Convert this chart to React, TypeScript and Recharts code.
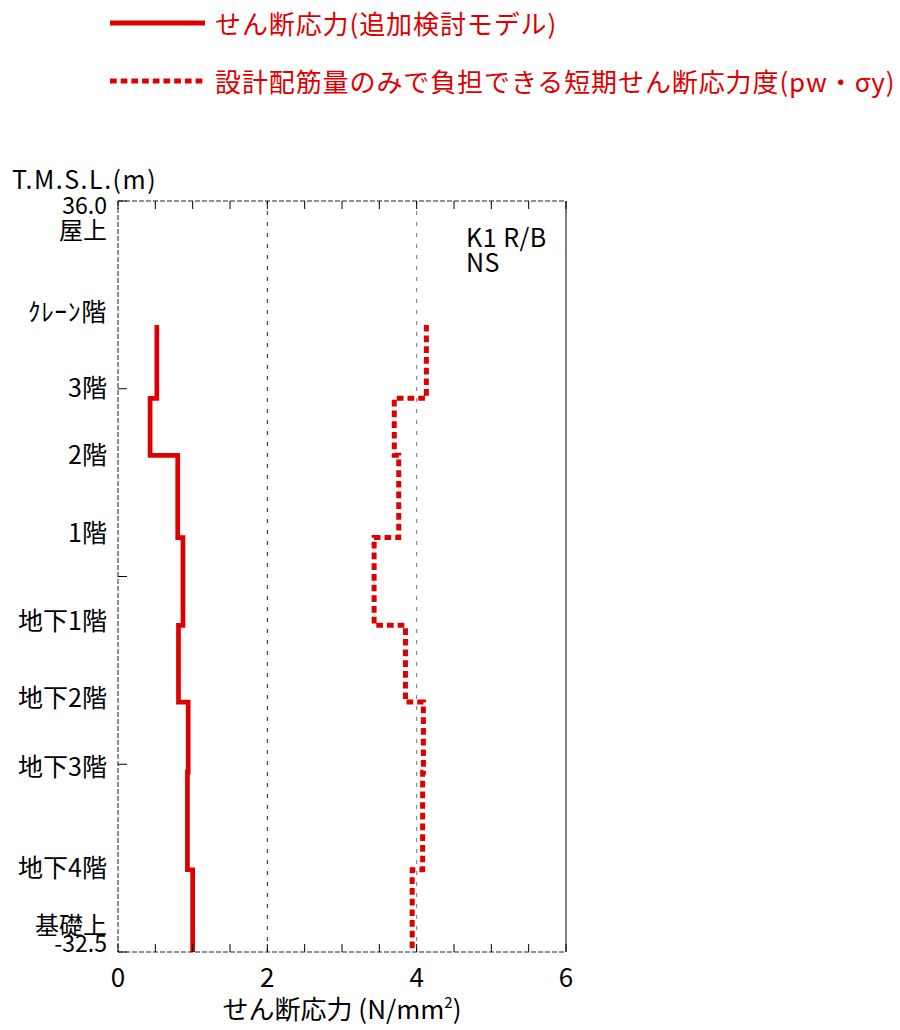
import { LineChart, Line, XAxis, YAxis, ReferenceLine, Legend, Label } from 'recharts'

const FONT = '"Noto Sans CJK JP", "Noto Sans", sans-serif'
const RED = '#dd0000'

// floor levels T.M.S.L.(m), top to bottom
const levels = [24.7, 18.0, 12.8, 5.3, -2.7, -9.7, -16.1, -25.0, -32.5]
// story values between levels[i] and levels[i + 1]
const shearModel = [0.52, 0.43, 0.80, 0.87, 0.81, 0.94, 0.93, 1.00]
const shearCapacity = [4.13, 3.70, 3.76, 3.43, 3.85, 4.09, 4.08, 3.94]

const legendNames = ['せん断応力(追加検討モデル)', '設計配筋量のみで負担できる短期せん断応力度(pw・σy)']

const storyNames = ['36.0', '屋上', 'ｸﾚｰﾝ階', '3階', '2階', '1階', '地下1階', '地下2階', '地下3階', '地下4階', '基礎上', '-32.5']
const storyLabelZ = [35.6, 33.3, 25.9, 18.9, 12.8, 5.7, -2.3, -9.3, -15.6, -24.8, -30.1, -31.7]
const storyFontSize = [23, 24, 25, 25, 25, 25, 25, 25, 25, 25, 24, 23]

const xTicks = [0, 0.5, 1, 1.5, 2, 2.5, 3, 3.5, 4, 4.5, 5, 5.5, 6]
const xLabels = [0, 2, 4, 6]
const zTicks = [36, 18.875, 1.75, -15.375, -32.5]
const zDomain = [-32.5, 36]

const stepPoints = (vals: number[]) =>
  vals.flatMap((v, i) => [{ z: levels[i], v }, { z: levels[i + 1], v }])

const modelPts = stepPoints(shearModel)
const capacityPts = stepPoints(shearCapacity)

const textStyle = { fontFamily: FONT, fill: '#000' }

// eslint-disable-next-line @typescript-eslint/no-explicit-any
const BottomTick = ({ x, y, payload }: any) => (
  <g>
    <line x1={x} x2={x} y1={y} y2={y - 8} stroke="#000" />
    {xLabels.includes(payload.value) && (
      <text x={x} y={y + 35} textAnchor="middle" fontSize={26} style={textStyle}>{payload.value}</text>
    )}
  </g>
)

// eslint-disable-next-line @typescript-eslint/no-explicit-any
const TopTick = ({ x, y }: any) => <line x1={x} x2={x} y1={y} y2={y + 8} stroke="#000" />

// eslint-disable-next-line @typescript-eslint/no-explicit-any
const LeftTick = ({ x, y, payload }: any) => {
  const i = storyLabelZ.indexOf(payload.value)
  const fs = storyFontSize[i]
  return (
    <g>
      {zTicks.includes(payload.value) && <line x1={x} x2={x + 9} y1={y} y2={y} stroke="#000" />}
      {i >= 0 && (
        <text x={x - 11} y={y + fs * 0.36} textAnchor="end" fontSize={fs}
          letterSpacing={i === 2 ? 0.8 : 0} style={textStyle}>{storyNames[i]}</text>
      )}
    </g>
  )
}

// eslint-disable-next-line @typescript-eslint/no-explicit-any
const RightTick = ({ x, y }: any) => <line x1={x} x2={x - 9} y1={y} y2={y} stroke="#000" />

const renderLegend = () => (
  <div style={{ fontFamily: FONT }}>
    {legendNames.map((name, i) => (
      <div key={name} style={{ display: 'flex', alignItems: 'center', height: 34, marginBottom: i === 0 ? 24 : 0 }}>
        <svg width={95} height={10}>
          <line x1={0} x2={95} y1={5} y2={5} stroke={RED} strokeWidth={5}
            strokeDasharray={i === 1 ? '6.7 4' : undefined} />
        </svg>
        <span style={{ marginLeft: 10, color: RED, fontSize: 26, lineHeight: '34px', letterSpacing: 0.9, whiteSpace: 'nowrap' }}>{name}</span>
      </div>
    ))}
  </div>
)

export default function App() {
  return (
    <div style={{ position: 'absolute', left: 0, top: 0, width: 900, height: 1030, background: '#fff' }}>
      <LineChart layout="vertical" width={900} height={1030}
        margin={{ top: 200, right: 333, bottom: 77, left: 117 }}>
        <XAxis xAxisId="b" type="number" dataKey="v" domain={[0, 6]} ticks={xTicks} interval={0}
          orientation="bottom" height={1} tickSize={0} tickMargin={0} tickLine={false}
          axisLine={{ stroke: '#222', strokeDasharray: '5 2' }} tick={BottomTick} allowDataOverflow>
          <Label content={({ viewBox }: any) => (
            <text x={viewBox.x + viewBox.width / 2} y={viewBox.y + 67} textAnchor="middle" fontSize={26} style={textStyle}>
              せん断応力 (N/mm<tspan fontSize={15} dy={-11}>2</tspan><tspan dy={11}>)</tspan>
            </text>
          )} />
        </XAxis>
        <XAxis xAxisId="t" type="number" domain={[0, 6]} ticks={xTicks} interval={0}
          orientation="top" height={1} tickSize={0} tickMargin={0} tickLine={false}
          axisLine={{ stroke: '#222', strokeDasharray: '5 2' }} tick={TopTick} allowDataOverflow />
        <YAxis yAxisId="l" type="number" dataKey="z" domain={zDomain} ticks={[...storyLabelZ, ...zTicks]} interval={0}
          orientation="left" width={1} tickSize={0} tickMargin={0} tickLine={false} reversed
          axisLine={{ stroke: '#222', strokeDasharray: '5 2' }} tick={LeftTick} allowDataOverflow>
          <Label content={({ viewBox }: any) => (
            <text x={12} y={viewBox.y - 12} fontSize={25} letterSpacing={1.5} style={textStyle}>T.M.S.L.(m)</text>
          )} />
        </YAxis>
        <YAxis yAxisId="r" type="number" domain={zDomain} ticks={zTicks} interval={0}
          orientation="right" width={1} tickSize={0} tickMargin={0} tickLine={false} reversed
          axisLine={{ stroke: '#000' }} tick={RightTick} allowDataOverflow>
          <Label content={({ viewBox }: any) => (
            <text x={viewBox.x - 100} y={viewBox.y + 46} fontSize={25} letterSpacing={0.5} style={textStyle}>
              K1 R/B
              <tspan x={viewBox.x - 100} dy={25}>NS</tspan>
            </text>
          )} />
        </YAxis>
        <ReferenceLine xAxisId="b" yAxisId="l" x={2} stroke="#222" strokeDasharray="4 7" />
        <ReferenceLine xAxisId="b" yAxisId="l" x={4} stroke="#777" strokeDasharray="4 7" />
        <Legend layout="vertical" align="center" verticalAlign="middle" content={renderLegend}
          wrapperStyle={{ position: 'absolute', top: 6, left: 110, width: 790 }} />
        <Line xAxisId="b" yAxisId="l" data={capacityPts} dataKey="v" name={legendNames[1]} stroke={RED}
          strokeWidth={5} strokeDasharray="6.7 4" dot={false} type="linear" isAnimationActive={false} />
        <Line xAxisId="b" yAxisId="l" data={modelPts} dataKey="v" name={legendNames[0]} stroke={RED}
          strokeWidth={4.7} dot={false} type="linear" strokeLinejoin="miter" isAnimationActive={false} />
      </LineChart>
    </div>
  )
}
